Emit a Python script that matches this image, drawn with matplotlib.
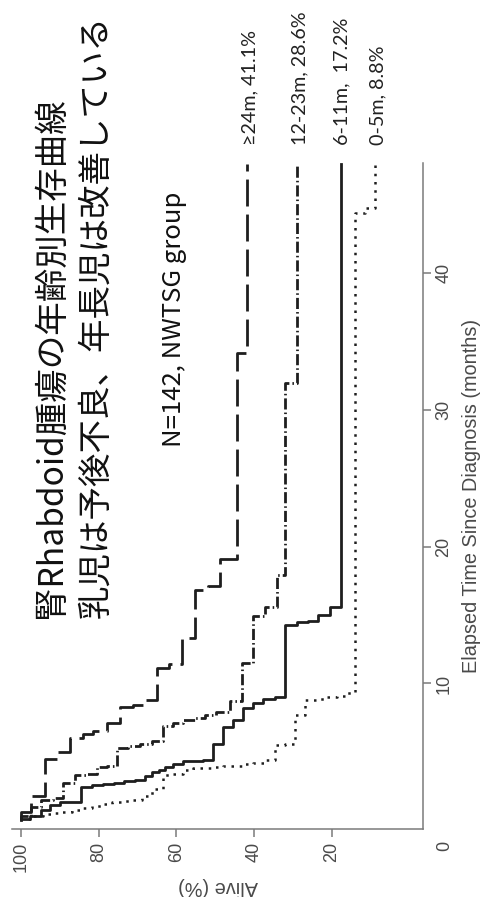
import matplotlib
matplotlib.use("Agg")
import matplotlib.pyplot as plt

t_24 = [0, 0.6, 1.8, 4.5, 5.0, 6.0, 6.3, 6.5, 7.1, 8.3, 8.4, 8.8, 11.1, 11.4,
        13.3, 16.8, 17.1, 19.1, 34.2, 48]
s_24 = [100, 97.4, 93.9, 90.9, 87.5, 84.0, 81.5, 78.0, 74.6, 71.3, 68.1, 65.1,
        61.9, 58.7, 55.2, 51.9, 48.8, 44.5, 41.8, 41.8]

t_12 = [0, 0.3, 1.0, 1.5, 1.6, 2.7, 3.3, 3.35, 3.9, 4.0, 5.3, 5.4, 5.6, 5.8,
        6.9, 7.1, 7.3, 7.5, 7.7, 7.9, 8.7, 11.5, 14.9, 15.6, 17.9, 32.0, 48]
s_12 = [100, 97.4, 94.8, 91.8, 89.2, 86.2, 83.4, 80.6, 78.0, 75.4, 72.4, 69.4,
        66.4, 63.4, 60.8, 58.3, 55.2, 52.6, 49.8, 46.2, 43.0, 40.2, 37.2, 34.2,
        32.0, 28.8, 28.8]

t_6 = [0, 0.1, 0.3, 0.75, 1.1, 1.3, 1.35, 2.45, 2.55, 2.65, 2.75, 2.85, 2.95,
       3.2, 3.5, 3.7, 3.9, 4.1, 4.3, 4.35, 4.4, 5.6, 6.8, 7.3, 8.2, 8.6, 8.9,
       9.0, 14.3, 14.5, 14.6, 15.0, 15.6, 48]
s_6 = [100, 97.8, 94.8, 92.6, 90.1, 87.3, 84.5, 81.7, 79.0, 76.2, 73.5, 70.7,
       68.0, 66.3, 64.6, 62.9, 60.8, 58.2, 55.7, 53.1, 50.5, 47.9, 45.4, 42.8,
       40.2, 37.6, 34.6, 32.0, 29.0, 26.2, 23.4, 20.4, 17.6, 17.6]

t_0 = [0, 0.1, 0.3, 0.45, 0.5, 0.6, 0.75, 0.9, 1.05, 1.2, 1.3, 1.4, 1.5, 1.75,
       2.3, 3.3, 3.4, 3.7, 3.8, 3.85, 3.9, 3.95, 4.0, 4.1, 4.2, 4.4, 5.5, 5.6,
       7.7, 8.8, 8.9, 9.0, 9.1, 9.3, 44.4, 44.8, 48]
s_0 = [100, 97.4, 94.5, 91.9, 89.6, 87.0, 84.4, 81.8, 79.2, 76.6, 74.0, 71.4,
       68.8, 66.2, 63.4, 60.8, 58.3, 55.7, 52.7, 50.3, 47.9, 45.3, 42.8, 40.2,
       37.2, 34.6, 32.0, 29.5, 26.9, 23.9, 21.3, 18.7, 16.1, 14.0, 11.4, 8.8, 8.8]

labels = ["≥24m, 41.1%", "12-23m, 28.6%", "6-11m,  17.2%", "0-5m, 8.8%"]
alive_ticks = [100, 80, 60, 40, 20]
time_ticks = [10, 20, 30, 40]

title1 = "腎Rhabdoid腫瘍の年齢別生存曲線"
title2 = "乳児は予後不良、年長児は改善している"
note = "N=142, NWTSG group"

W, H = 485, 897
def fx(px):
    return px / W
def fy(py):
    return 1 - py / H

plt.rcParams['font.family'] = ['Liberation Sans', 'DejaVu Sans']
fig = plt.figure(figsize=(W / 100, H / 100), dpi=100)
ax = fig.add_axes([fx(12), fy(829), fx(423) - fx(12), fy(163) - fy(829)])

ink = "#1e1e1e"
ax.plot(s_24, t_24, drawstyle='steps-pre', color=ink, lw=2.0, dashes=(9.7, 2.9))
ax.plot(s_12, t_12, drawstyle='steps-pre', color=ink, lw=2.0,
        dashes=(4.0, 1.1, 0.55, 1.1))
ax.plot(s_6, t_6, drawstyle='steps-pre', color=ink, lw=2.0)
ax.plot(s_0, t_0, drawstyle='steps-pre', color=ink, lw=1.8, dashes=(1.0, 2.3))

ax.set_xlim(102.4, -3.56)
ax.set_ylim(-0.64, 48.06)

grey = "#7a7a7a"
for side in ['top', 'left']:
    ax.spines[side].set_visible(False)
for side in ['bottom', 'right']:
    ax.spines[side].set_color(grey)
    ax.spines[side].set_linewidth(1.1)

ax.yaxis.tick_right()
ax.yaxis.set_label_position('right')
ax.set_xticks(alive_ticks)
ax.set_xticklabels([str(v) for v in alive_ticks], rotation=90)
ax.set_yticks(time_ticks)
ax.set_yticklabels([str(v) for v in time_ticks], rotation=90, va='center')
ax.tick_params(colors=grey, labelcolor="#4a4a4a", labelsize=13, length=5.5,
               width=1.1, pad=3.5)

ax.set_xlabel("Alive (%)", rotation=180, fontsize=14.3, color="#4a4a4a",
              labelpad=4)
ax.set_ylabel("Elapsed Time Since Diagnosis (months)", rotation=90,
              fontsize=14.3, color="#4a4a4a", labelpad=7)

fig.text(fx(445), fy(846), "0", rotation=90, ha='center', va='center',
         fontsize=13, color="#4a4a4a")

jp = ['Noto Sans CJK JP', 'DejaVu Sans']
fig.text(fx(51), fy(618), title1, rotation=90, rotation_mode='anchor',
         ha='left', va='center', fontsize=24.1, family=jp, color="#111111")
fig.text(fx(96), fy(618), title2, rotation=90, rotation_mode='anchor',
         ha='left', va='center', fontsize=24.1, family=jp, color="#111111")
fig.text(fx(174), fy(447), note, rotation=90, rotation_mode='anchor',
         ha='left', va='center', fontsize=18.5, family=jp, color="#111111")

leg_x = [250, 300, 342, 378]
for lx, lab in zip(leg_x, labels):
    fig.text(fx(lx), fy(145), lab, rotation=90, rotation_mode='anchor',
             ha='left', va='center', fontsize=14.2,
             family=['Lato', 'DejaVu Sans'], color="#222222")

fig.savefig("out.png", dpi=100)
